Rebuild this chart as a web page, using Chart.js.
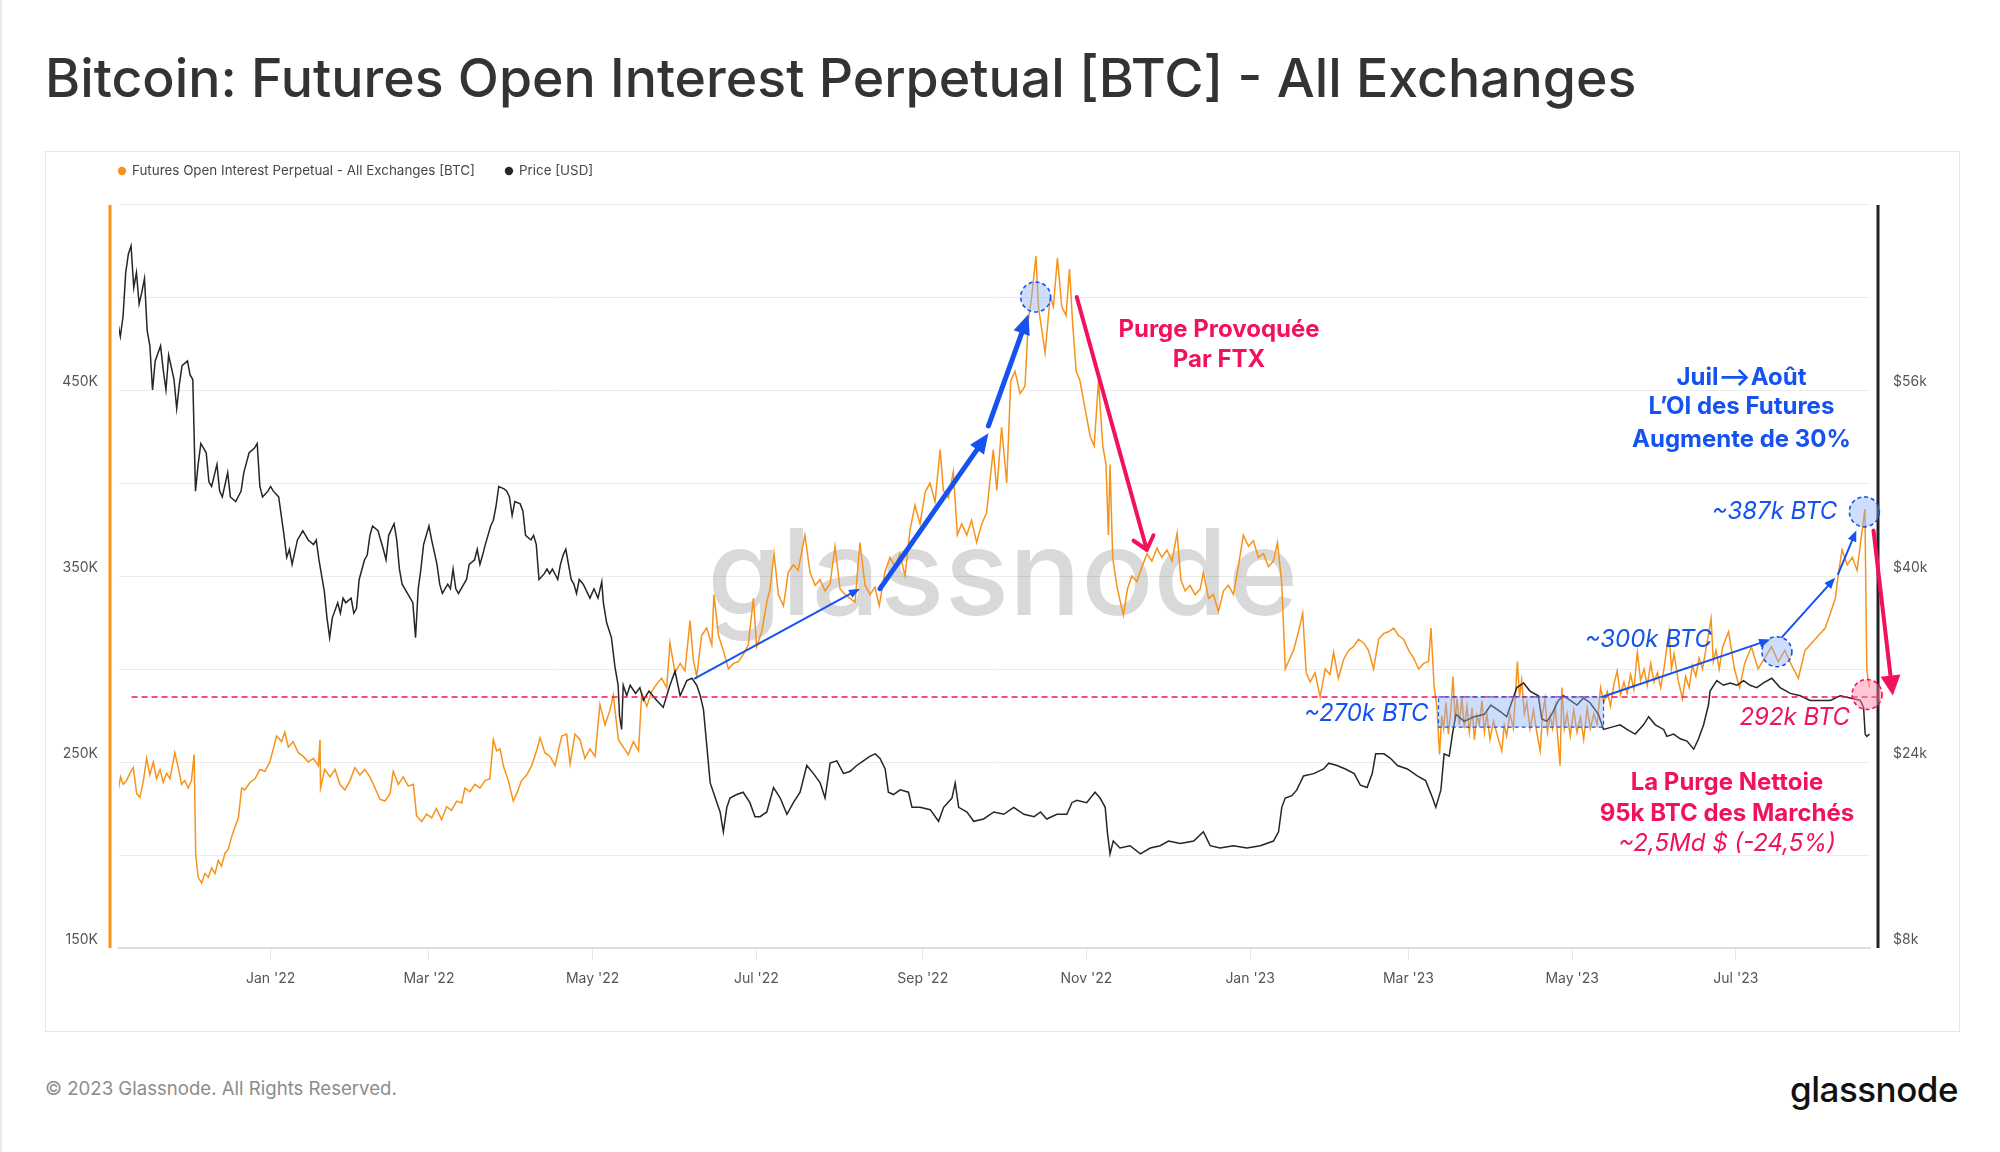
<!DOCTYPE html>
<html>
<head>
<meta charset="utf-8">
<script src="https://cdn.jsdelivr.net/npm/chart.js@4.4.0/dist/chart.umd.min.js"></script>
<style>
  html, body { margin: 0; padding: 0; background: #fff; }
  body { width: 2000px; height: 1152px; position: relative; overflow: hidden; font-family: Inter, "Noto Sans", sans-serif; }
  #edge { position: absolute; left: 0; top: 0; width: 2px; height: 1152px; background: #e8e8e8; }
  h1 { position: absolute; left: 45px; top: 51px; margin: 0; font-size: 53.6px; line-height: 54px; font-weight: 500; color: #333; white-space: nowrap; }
  #box { position: absolute; left: 45px; top: 151px; width: 1913px; height: 879px; border: 1px solid #e6e6e6; }
  #box canvas { position: absolute; left: 0; top: 0; }
  #copy { position: absolute; left: 45px; top: 1076px; font-size: 18.6px; line-height: 24px; color: #8c8c8c; }
  #logo { position: absolute; right: 42px; top: 1072px; font-size: 35px; line-height: 35px; font-weight: 500; color: #111; letter-spacing: -0.5px; }
</style>
</head>
<body>
<div id="edge"></div>
<h1>Bitcoin: Futures Open Interest Perpetual [BTC] - All Exchanges</h1>
<div id="box"><canvas id="chart" width="1913" height="879"></canvas></div>
<div id="copy">© 2023 Glassnode. All Rights Reserved.</div>
<div id="logo">glassnode</div>
<script>
// x values are days counted from 1 Jan 2022
const tickDays = [0, 59, 120, 181, 243, 304, 365, 424, 485, 546];
const tickLabels = ["Jan '22", "Mar '22", "May '22", "Jul '22", "Sep '22", "Nov '22", "Jan '23", "Mar '23", "May '23", "Jul '23"];

// futures open interest, thousands of BTC
const oiDay = [
  -56.8, -55.9, -54.9, -53.7, -52.4, -51.2, -49.9, -48.7, -47.4, -46.2,
  -45, -43.7, -42.5, -41.2, -40, -38.8, -37.5, -35.7, -34.4, -33.2,
  -32, -30.7, -29.5, -28.5, -27.9, -27, -25.7, -24.5, -23.2, -22,
  -20.7, -19.5, -18.3, -17, -15.8, -14.5, -13.3, -12, -10.8, -9.6,
  -7.7, -5.8, -4, -2.1, -0.3, 1, 2.2, 4.1, 5.3, 6.6,
  8.4, 10.3, 12.2, 14, 15.9, 17.8, 18.4, 18.6, 20.2, 22.1,
  24, 25.8, 27.7, 29.6, 31.4, 33.3, 35.1, 37, 38.9, 40.7,
  42.6, 44.5, 45.7, 47.6, 49.4, 51.3, 53.2, 54.4, 56.3, 58.1,
  60, 61.8, 63.7, 65.6, 67.4, 69.3, 71.2, 72.4, 74.3, 76.1,
  78, 79.9, 81.7, 83, 84.2, 85.5, 86.9, 88.6, 90.4, 91.7,
  93.5, 95.4, 97.3, 99.1, 100.4, 102.2, 104.1, 106, 107.2, 108.5,
  110.3, 111.6, 113.4, 115.3, 117.1, 119, 120.9, 122.7, 124.6, 126.5,
  127.7, 129.6, 131.4, 133.3, 135.2, 137.1, 138.3, 140.2, 142, 143.9,
  145.7, 147.6, 148.8, 150.7, 152.6, 154.4, 156.3, 157.5, 158.8, 160.6,
  162.5, 164.4, 165.2, 166.9, 168.7, 170.6, 172.5, 174.3, 176.2, 178,
  179.9, 181.1, 183, 184.9, 186.1, 187.6, 189.2, 191.1, 192.9, 194.8,
  196.6, 199.1, 201, 202.9, 204.7, 206.6, 208.5, 210.3, 212.2, 214.1,
  215.9, 217.8, 219.6, 221.5, 223.4, 225.2, 226.8, 228.9, 230.8, 232.7,
  234.5, 236.4, 238.3, 240.1, 242, 243.9, 245.7, 247.6, 249.5, 250.7,
  252.6, 254.4, 255.9, 257.5, 259.4, 261.2, 263.1, 265, 266.8, 269.3,
  270.6, 272.4, 274.3, 275.8, 277.4, 279.3, 281.1, 282.4, 283.6, 285.2,
  286.1, 288.6, 290.5, 291.7, 293.2, 294.8, 296.4, 297.7, 298.9, 300.2,
  301.6, 303.5, 305.4, 306.9, 308.5, 310.1, 311.3, 312.2, 312.8, 313.8,
  315.3, 316.5, 317.8, 319.3, 320.9, 322.8, 324.7, 326.6, 328.4, 330.3,
  332.1, 334, 335.9, 337.8, 339.2, 340.8, 342.6, 344.5, 346.4, 347.6,
  349.5, 351.3, 353.2, 355.1, 356.9, 358.8, 360.6, 362.5, 364.4, 366.2,
  368.1, 370, 371.8, 373.7, 375.2, 376.8, 378.1, 379.3, 381.2, 383,
  384.6, 385.9, 387.4, 389.2, 391.1, 393, 394.8, 396.1, 397.9, 399.8,
  401.7, 403.5, 405.4, 407.3, 409.1, 411, 412.9, 414.7, 416.6, 418.5,
  420.3, 422.2, 424.1, 425.9, 427.8, 429.7, 431.5, 432.4, 433.6, 434.6,
  435.6, 436.4, 437.1, 438, 438.9, 439.8, 440.6, 441.4, 442.1, 443,
  443.9, 444.8, 445.8, 446.7, 447.7, 448.6, 449.5, 450.4, 451.4, 452.3,
  453.2, 454.4, 455.7, 457, 458.8, 459.7, 460.6, 461.8, 463.1, 464.6,
  465.4, 466.2, 467.2, 468.1, 469.3, 470.6, 471.8, 473.1, 474, 474.9,
  475.8, 476.8, 477.7, 478.7, 479.6, 480.5, 481.2, 482.1, 483.1, 484.3,
  485.6, 486.8, 488.1, 489.3, 490.6, 491.8, 493.1, 494.3, 495.6, 496.8,
  498.1, 499.3, 500.6, 501.8, 503, 504.3, 505.5, 506.8, 508, 509.3,
  510.5, 511.8, 513, 514.3, 515.5, 516.8, 518, 519.3, 521.1, 522,
  523, 524.5, 526.1, 527.3, 528.6, 529.8, 531.1, 532.3, 533.6, 535,
  536.8, 537.6, 538.6, 539.8, 541.1,
  543.3, 545.5, 547.4, 549.3, 551.8, 554.3, 556.8, 559.3, 561.8, 564.3,
  566.8, 569.3, 571.8, 574.3, 576.8, 579.3, 581.2, 583.1, 584.3, 585.6,
  587.5, 589.4, 591.2, 592.5, 594.1, 594.8, 595.4, 596
];
const oiBtcK = [
  235, 242, 238, 240, 244, 247, 233, 231, 240, 252,
  243, 250, 241, 246, 239, 244, 241, 255, 247, 238,
  240, 236, 240, 254, 200, 188, 185, 190, 188, 193,
  190, 197, 194, 201, 203, 210, 215, 220, 236, 235,
  239, 241, 246, 245, 250, 257, 264, 261, 266, 258,
  261, 255, 253, 250, 252, 248, 262, 236, 246, 242,
  246, 238, 235, 240, 247, 243, 246, 242, 236, 230,
  229, 233, 245, 238, 242, 237, 238, 221, 218, 222,
  220, 225, 219, 226, 224, 229, 228, 236, 234, 238,
  236, 240, 241, 262, 256, 257, 247, 240, 229, 233,
  240, 243, 248, 256, 263, 255, 253, 248, 256, 264,
  265, 249, 265, 262, 252, 257, 253, 281, 270, 278,
  286, 262, 258, 254, 261, 256, 287, 280, 288, 292,
  295, 290, 314, 298, 303, 299, 326, 305, 296, 318,
  322, 313, 340, 318, 310, 300, 303, 304, 308, 313,
  338, 312, 320, 336, 343, 362, 340, 334, 352, 356,
  353, 372, 352, 345, 348, 342, 346, 366, 343, 340,
  338, 336, 368, 345, 340, 344, 334, 352, 360, 355,
  362, 350, 375, 388, 378, 395, 400, 390, 418, 396,
  392, 406, 372, 378, 372, 380, 368, 378, 384, 418,
  396, 430, 400, 455, 460, 448, 452, 488, 500, 522,
  495, 470, 500, 495, 521, 495, 490, 515, 485, 460,
  455, 440, 425, 420, 455, 420, 410, 372, 410, 360,
  345, 337, 329, 343, 350, 347, 355, 362, 358, 365,
  360, 364, 358, 373, 348, 342, 345, 340, 343, 352,
  338, 340, 331, 342, 345, 340, 355, 372, 366, 369,
  360, 362, 355, 358, 368, 346, 300, 304, 310, 320,
  330, 298, 293, 298, 285, 300, 297, 309, 295, 305,
  310, 312, 316, 314, 310, 300, 316, 319, 320, 322,
  318, 316, 310, 306, 300, 303, 304, 322, 290, 280,
  254, 275, 268, 282, 265, 278, 296, 272, 284, 270,
  285, 268, 280, 266, 279, 262, 275, 270, 283, 266,
  276, 262, 272, 265, 256, 270, 264, 276, 268, 304,
  285, 294, 276, 282, 268, 278, 266, 256, 276, 284,
  266, 275, 268, 280, 264, 248, 290, 268, 276, 264,
  278, 266, 274, 262, 279, 268, 276, 270, 290, 282,
  288, 280, 292, 299, 286, 293, 287, 297, 289, 309,
  294, 300, 291, 303, 293, 298, 290, 301, 320, 300,
  308, 294, 284, 296, 290, 302, 296, 306, 300, 312,
  327, 304, 310, 300, 312,
  320, 300, 290, 303, 312, 300, 306, 312, 304, 310,
  302, 295, 310, 314, 318, 322, 330, 338, 352, 364,
  356, 360, 353, 368, 386, 300, 293, 290
];

// bitcoin price, thousands of USD
const priceDay = [
  -57, -56, -55, -54, -53, -52, -51, -50, -49, -48,
  -47, -46, -45, -44, -43, -41, -40, -39, -38, -36,
  -35, -34, -33, -31, -30, -29, -28, -27, -26, -24,
  -23, -22, -20, -19, -18, -16, -15, -13, -11, -10,
  -8, -6, -5, -4, -3, -1, 0, 1, 3, 5,
  6, 7, 8, 10, 11, 12, 14, 16, 17, 18,
  20, 21, 22, 23, 25, 26, 27, 28, 30, 31,
  32, 33, 35, 36, 37, 38, 40, 41, 42, 43,
  44, 46, 47, 48, 49, 51, 53, 54, 55, 56,
  57, 59, 60, 62, 63, 64, 66, 67, 68, 69,
  70, 72, 73, 74, 76, 77, 78, 79, 80, 82,
  83, 84, 85, 87, 88, 89, 90, 91, 93, 94,
  95, 97, 98, 99, 100, 102, 103, 104, 105, 107,
  108, 109, 110, 112, 113, 114, 115, 116.5, 119, 120.5,
  122, 123.4, 124, 125.2, 127, 128.3, 129.5, 130, 130.8, 131.4,
  132.7, 134, 136, 137.6, 138.9, 141, 143.9, 146.3, 148.8, 150.7,
  152.6, 155.1, 157, 158.8, 160.1, 161.3, 162.5, 163.8, 165, 166.3,
  167.5, 168.7, 170, 171.2, 173.7, 176.1, 178.6, 180.5, 182.4, 184.9,
  187.4, 189.9, 192.4, 194.8, 197.3, 199.8, 202.3, 204.8, 206.6, 208.5,
  211, 213.5, 216, 218.4, 220.9, 223.4, 225.3, 227.1, 229, 230.2,
  232.1, 234.6, 237.7, 239, 242, 245.8, 248.9, 250.8, 253.9, 255.1,
  256.4, 259.5, 262, 265.7, 269.5, 273.2, 276.9, 280.7, 284.5, 286.9,
  289.2, 293, 296.7, 298.6, 300.4, 304.1, 307.2, 309.1, 311, 311.8,
  312.8, 314, 316.5, 320.3, 324.1, 327.8, 331.5, 334.6, 339, 344,
  347.6, 350.1, 353.8, 358.8, 363.8, 368.8, 373.7, 375.6, 376.8, 378.1,
  380.6, 382.4, 384.9, 388.7, 392.4, 394.3, 397.4, 400.5, 403.8, 406.1,
  408.6, 410.5, 411.8, 414.9, 417.4, 419.9, 423.6, 427.3, 430.4, 433,
  434.2, 436.1, 437.3, 439.2, 440.4, 441.7, 444.8, 448.5, 452.3, 454.7,
  458.5, 460.6, 464.4, 466.9, 469.3, 472.4, 473.7, 475.6, 477.4, 479.9,
  481.8, 484.3, 486.8, 489.2, 491.7, 494.8, 496.7, 499.8, 502.9, 505.4,
  508.5, 511.6, 513.5, 516, 519.1, 520.3, 522.8, 525.3, 527.8, 530.3,
  532.1, 534, 535.8, 536.4, 538.9, 541.4, 543.9, 546.4, 548.9, 551.3,
  553.8, 556.3, 559.4, 562.5, 566.3, 570, 573.7, 577.5, 581.2, 584.9,
  588.6, 592.4, 593.6, 594.2, 594.8, 595.8
];
const priceUsdK = [
  61.9, 60.6, 62.3, 66.1, 67.7, 68.4, 64.8, 66.1, 63.4, 64.4,
  65.6, 61.1, 59.8, 56.0, 58.5, 59.8, 57.7, 56.0, 59.0, 56.9,
  54.4, 56.5, 58.1, 58.5, 57.3, 56.9, 47.3, 49.6, 51.4, 50.6,
  48.1, 47.7, 49.6, 47.3, 46.8, 48.9, 46.8, 46.4, 47.3, 48.9,
  50.6, 51.0, 51.4, 47.7, 46.8, 47.3, 47.7, 47.3, 46.8, 43.5,
  41.6, 42.3, 41.0, 43.1, 43.5, 43.9, 43.1, 42.7, 43.1, 41.4,
  38.7, 36.4, 34.7, 36.4, 37.7, 36.8, 38.1, 37.7, 38.1, 36.8,
  37.2, 39.7, 41.4, 41.8, 43.5, 44.3, 43.9, 43.1, 42.3, 41.4,
  43.5, 44.5, 43.1, 40.6, 39.3, 38.5, 37.7, 34.7, 38.9, 40.6,
  42.7, 44.3, 43.1, 41.0, 39.3, 38.5, 39.3, 38.9, 40.6, 38.9,
  38.5, 39.3, 39.7, 41.0, 41.4, 42.3, 41.0, 41.8, 42.7, 44.3,
  44.8, 46.0, 47.7, 47.5, 47.3, 46.8, 45.2, 46.4, 46.2, 45.6,
  43.5, 43.1, 43.5, 42.7, 39.7, 40.2, 40.6, 40.2, 40.6, 39.7,
  41.0, 41.8, 42.3, 39.7, 39.3, 38.5, 39.7, 39.3, 38.1, 38.9,
  38.1, 39.5, 37.7, 36.0, 34.7, 32.2, 30.6, 28.0, 26.8, 30.6,
  29.7, 30.6, 29.9, 30.4, 29.3, 30.1, 29.3, 28.7, 30.6, 31.8,
  29.7, 31.0, 31.2, 30.6, 29.7, 28.5, 25.5, 22.2, 21.4, 20.5,
  19.7, 18.0, 20.1, 20.9, 21.2, 21.4, 20.5, 19.3, 19.3, 19.7,
  21.8, 20.9, 19.5, 20.5, 21.4, 23.7, 23.0, 22.2, 20.9, 23.9,
  24.1, 23.0, 23.2, 23.7, 24.1, 24.5, 24.7, 24.3, 23.4, 21.4,
  21.2, 21.6, 21.4, 20.1, 20.1, 19.9, 18.9, 20.1, 20.9, 22.2,
  20.1, 19.7, 18.9, 19.1, 19.7, 19.5, 20.1, 19.5, 19.3, 19.7,
  19.1, 19.5, 19.5, 20.5, 20.7, 20.5, 21.4, 20.9, 20.1, 18.0,
  16.1, 17.2, 16.6, 16.8, 16.1, 16.6, 16.8, 17.2, 17.0, 17.2,
  18.0, 16.8, 16.6, 16.8, 16.6, 16.8, 17.2, 18.0, 20.1, 20.9,
  21.1, 21.6, 22.8, 23.0, 23.4, 23.9, 23.7, 23.4, 23.0, 22.0,
  21.8, 23.0, 24.7, 24.7, 24.3, 23.7, 23.4, 22.8, 22.4, 20.9,
  20.1, 21.6, 24.7, 24.5, 26.4, 28.1, 27.5, 27.9, 28.1, 28.9,
  28.3, 27.9, 30.4, 30.8, 30.1, 29.7, 27.7, 27.5, 28.1, 29.3,
  29.7, 29.3, 28.9, 29.5, 29.1, 28.1, 26.8, 27.0, 27.2, 26.8,
  26.4, 27.2, 27.9, 27.2, 26.8, 26.2, 26.4, 26.0, 25.8, 25.1,
  26.0, 27.2, 28.9, 30.1, 31.0, 30.6, 30.8, 30.6, 31.0, 30.6,
  30.4, 30.8, 31.2, 30.4, 29.9, 29.7, 29.3, 29.3, 29.3, 29.7,
  29.5, 29.3, 28.7, 26.4, 26.2, 26.4
];

const BLUE = '#1552f0';
const PINK = '#f2125c';
const ORANGE = '#f7931a';

// annotations, placed in chart units (day, thousands of BTC)
const arrows = [
  {from: [158.1, 294.9], to: [219.6, 343.2], color: BLUE, width: 2, head: [11, 9]},
  {from: [227.1, 343.2], to: [267.5, 426.8], color: BLUE, width: 5, head: [20, 17]},
  {from: [267.5, 430.7], to: [282.4, 490.7], color: BLUE, width: 5, head: [20, 17]},
  {from: [496.7, 285.2], to: [558.8, 315.8], color: BLUE, width: 2, head: [11, 9]},
  {from: [563.2, 317.1], to: [583.0, 349.0], color: BLUE, width: 2, head: [11, 9]},
  {from: [584.1, 351.0], to: [590.9, 374.5], color: BLUE, width: 2, head: [11, 9]},
  {from: [300.4, 500.0], to: [326.5, 364.1], color: PINK, width: 4, chevron: 16},
  {from: [597.3, 374.5], to: [604.5, 285.8], color: PINK, width: 4, head: [20, 20]}
];
const circles = [
  {at: [285.1, 500], color: BLUE},
  {at: [561.3, 309.3], color: BLUE},
  {at: [593.9, 384.5], color: BLUE},
  {at: [594.9, 286.3], color: PINK}
];
const notes = [
  {text: 'Purge Provoquée', at: [353.4, 478.7], color: PINK, font: '700 24px Inter', align: 'center'},
  {text: 'Par FTX', at: [353.4, 462.5], color: PINK, font: '700 24px Inter', align: 'center'},
  {text: 'Juil⟶Août', at: [548.1, 452.7], color: BLUE, font: '700 24px Inter', align: 'center'},
  {text: 'L’OI des Futures', at: [548.1, 437.1], color: BLUE, font: '700 24px Inter', align: 'center'},
  {text: 'Augmente de 30%', at: [548.1, 419.5], color: BLUE, font: '700 24px Inter', align: 'center'},
  {text: '~387k BTC', at: [583.8, 380.5], color: BLUE, font: 'italic 400 24px Inter', align: 'right'},
  {text: '~300k BTC', at: [537.1, 311.6], color: BLUE, font: 'italic 400 24px Inter', align: 'right'},
  {text: '~270k BTC', at: [431.5, 272.0], color: BLUE, font: 'italic 400 24px Inter', align: 'right'},
  {text: '292k BTC', at: [588.6, 269.9], color: PINK, font: 'italic 400 24px Inter', align: 'right'},
  {text: 'La Purge Nettoie', at: [542.7, 234.9], color: PINK, font: '700 24px Inter', align: 'center'},
  {text: '95k BTC des Marchés', at: [542.7, 218.5], color: PINK, font: '700 24px Inter', align: 'center'},
  {text: '~2,5Md $ (-24,5%)', at: [542.7, 202.2], color: PINK, font: 'italic 400 24px Inter', align: 'center'}
];

function px(chart, p) {
  return [chart.scales.x.getPixelForValue(p[0]), chart.scales.yOi.getPixelForValue(p[1])];
}

function drawArrow(c, a, b, o) {
  const ang = Math.atan2(b[1] - a[1], b[0] - a[0]);
  c.strokeStyle = o.color;
  c.fillStyle = o.color;
  c.lineWidth = o.width;
  c.lineCap = 'round';
  c.lineJoin = 'round';
  if (o.chevron) {
    c.beginPath();
    c.moveTo(a[0], a[1]);
    c.lineTo(b[0], b[1]);
    c.stroke();
    c.beginPath();
    c.moveTo(b[0] - o.chevron * Math.cos(ang - 0.7), b[1] - o.chevron * Math.sin(ang - 0.7));
    c.lineTo(b[0], b[1]);
    c.lineTo(b[0] - o.chevron * Math.cos(ang + 0.7), b[1] - o.chevron * Math.sin(ang + 0.7));
    c.stroke();
    return;
  }
  const [hl, hw] = o.head;
  const bx = b[0] - hl * Math.cos(ang), by = b[1] - hl * Math.sin(ang);
  c.beginPath();
  c.moveTo(a[0], a[1]);
  c.lineTo(bx, by);
  c.stroke();
  c.beginPath();
  c.moveTo(b[0], b[1]);
  c.lineTo(bx + hw / 2 * Math.sin(ang), by - hw / 2 * Math.cos(ang));
  c.lineTo(bx - hw / 2 * Math.sin(ang), by + hw / 2 * Math.cos(ang));
  c.closePath();
  c.fill();
}

const watermark = {
  id: 'watermark',
  beforeDatasetsDraw(chart) {
    const c = chart.ctx;
    const [x, y] = px(chart, [272.8, 329.3]);
    c.save();
    c.font = '500 130px Inter';
    const w = c.measureText('glassnode').width;
    const size = 130 * 591 / w;
    c.font = '500 ' + size.toFixed(1) + 'px Inter';
    c.fillStyle = 'rgba(0,0,0,0.15)';
    c.textAlign = 'center';
    c.textBaseline = 'alphabetic';
    c.fillText('glassnode', x, y);
    c.restore();
  }
};

const frame = {
  id: 'frame',
  afterDraw(chart) {
    const c = chart.ctx;
    const a = chart.chartArea;
    c.save();
    // side axis bars
    c.lineWidth = 3;
    c.strokeStyle = ORANGE;
    c.beginPath(); c.moveTo(a.left - 9, a.top + 1); c.lineTo(a.left - 9, a.bottom); c.stroke();
    c.strokeStyle = '#222';
    c.beginPath(); c.moveTo(a.right + 8, a.top + 1); c.lineTo(a.right + 8, a.bottom); c.stroke();

    // legend
    c.font = '13.4px Inter';
    c.textBaseline = 'middle';
    let lx = 72;
    chart.data.datasets.forEach(ds => {
      c.fillStyle = ds.borderColor;
      c.beginPath(); c.arc(lx + 4, 19, 4.2, 0, Math.PI * 2); c.fill();
      c.fillStyle = '#474747';
      c.fillText(ds.label, lx + 14, 19);
      lx += 14 + c.measureText(ds.label).width + 30;
    });

    // dashed level line and the blue range box
    const y285 = chart.scales.yOi.getPixelForValue(285);
    c.setLineDash([6, 4]);
    c.lineWidth = 1.5;
    c.strokeStyle = PINK;
    c.beginPath();
    c.moveTo(chart.scales.x.getPixelForValue(-51.8), y285);
    c.lineTo(chart.scales.x.getPixelForValue(600), y285);
    c.stroke();

    const r0 = px(chart, [435.2, 285]), r1 = px(chart, [496.7, 268.8]);
    c.setLineDash([4, 3]);
    c.fillStyle = 'rgba(140,175,250,0.42)';
    c.fillRect(r0[0], r0[1], r1[0] - r0[0], r1[1] - r0[1]);
    c.lineWidth = 1.2;
    c.strokeStyle = BLUE;
    c.strokeRect(r0[0], r0[1], r1[0] - r0[0], r1[1] - r0[1]);

    circles.forEach(o => {
      const [x, y] = px(chart, o.at);
      c.beginPath();
      c.arc(x, y, 15, 0, Math.PI * 2);
      c.fillStyle = o.color === BLUE ? 'rgba(140,175,250,0.42)' : 'rgba(255,130,165,0.45)';
      c.fill();
      c.lineWidth = 1.6;
      c.strokeStyle = o.color;
      c.stroke();
    });
    c.setLineDash([]);

    arrows.forEach(o => drawArrow(c, px(chart, o.from), px(chart, o.to), o));

    c.textBaseline = 'alphabetic';
    notes.forEach(n => {
      const [x, y] = px(chart, n.at);
      c.font = n.font;
      c.fillStyle = n.color;
      c.textAlign = n.align;
      c.fillText(n.text, x, y);
    });
    c.restore();
  }
};

Chart.defaults.font.family = 'Inter';

new Chart(document.getElementById('chart'), {
  type: 'line',
  data: {
    datasets: [
      {
        label: 'Futures Open Interest Perpetual - All Exchanges [BTC]',
        data: oiDay.map((d, i) => ({x: d, y: oiBtcK[i]})),
        yAxisID: 'yOi',
        borderColor: ORANGE,
        borderWidth: 1.5,
        pointRadius: 0,
        order: 2
      },
      {
        label: 'Price [USD]',
        data: priceDay.map((d, i) => ({x: d, y: priceUsdK[i]})),
        yAxisID: 'yPrice',
        borderColor: '#262626',
        borderWidth: 1.5,
        pointRadius: 0,
        order: 1
      }
    ]
  },
  options: {
    responsive: false,
    animation: false,
    layout: {padding: {top: 52, left: 0, right: 0, bottom: 0}},
    plugins: {legend: {display: false}, tooltip: {enabled: false}},
    scales: {
      x: {
        type: 'linear',
        min: -56.5,
        max: 596,
        afterFit(s) { s.height = 83; },
        afterBuildTicks(s) { s.ticks = tickDays.map(v => ({value: v})); },
        ticks: {
          callback: (v, i) => tickLabels[i],
          color: '#555',
          font: {size: 14},
          padding: 10,
          maxRotation: 0,
          autoSkip: false
        },
        grid: {drawOnChartArea: false, drawTicks: true, tickLength: 12, color: '#e6e6e6'},
        border: {color: '#dedede', width: 2}
      },
      yOi: {
        position: 'left',
        min: 150,
        max: 550,
        afterFit(s) { s.width = 73; },
        ticks: {
          stepSize: 50,
          callback: v => ((v - 150) % 100 === 0 && v < 550) ? v + 'K' : '',
          color: '#555',
          font: {size: 14},
          padding: 21,
          labelOffset: -8
        },
        grid: {color: '#ececec', drawTicks: false},
        border: {display: false}
      },
      yPrice: {
        position: 'right',
        min: 8,
        max: 72,
        afterFit(s) { s.width = 89; },
        ticks: {
          stepSize: 8,
          callback: v => ((v - 8) % 16 === 0 && v < 72) ? '$' + v + 'k' : '',
          color: '#555',
          font: {size: 14},
          padding: 23,
          labelOffset: -8
        },
        grid: {display: false, drawTicks: false},
        border: {display: false}
      }
    }
  },
  plugins: [watermark, frame]
});
</script>
</body>
</html>
